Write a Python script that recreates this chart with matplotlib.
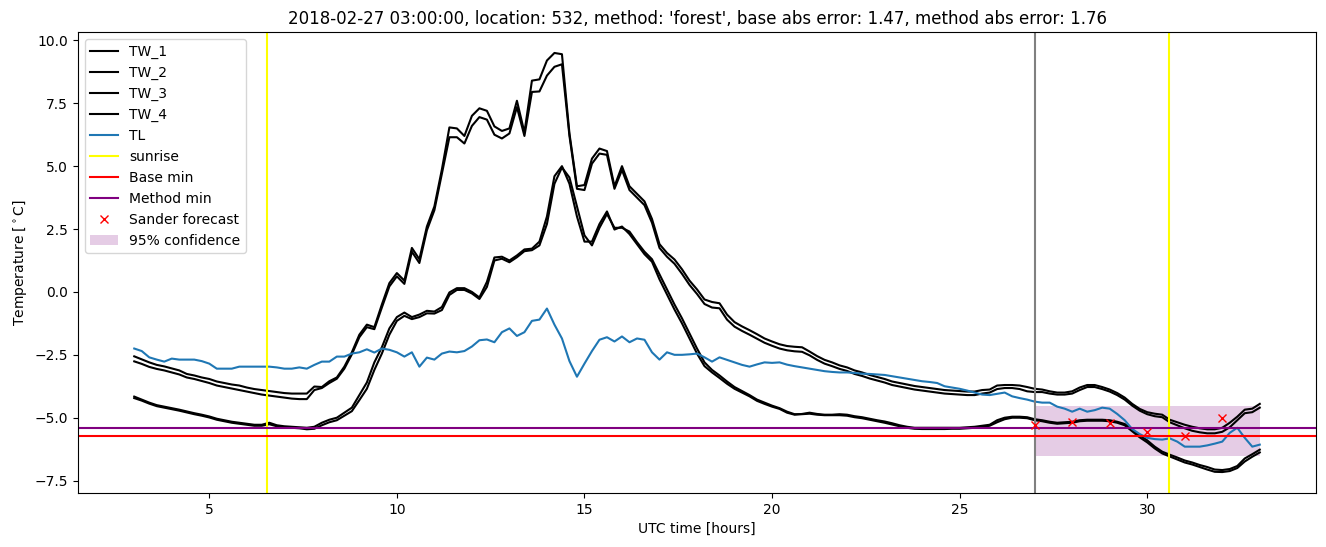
import numpy as np
import matplotlib
matplotlib.use("Agg")
import matplotlib.pyplot as plt

# water temperature sensors, 0.2 h steps from 03:00 to 33:00
tw_1 = [-2.56, -2.68, -2.80, -2.90, -2.96,
        -3.04, -3.12, -3.26, -3.32, -3.40,
        -3.46, -3.56, -3.62, -3.68, -3.72,
        -3.80, -3.86, -3.90, -3.94, -3.98,
        -4.02, -4.04, -4.04, -4.04, -3.76,
        -3.78, -3.55, -3.40, -2.97, -2.40,
        -1.70, -1.30, -1.40, -0.50, 0.35,
        0.75, 0.45, 1.75, 1.30, 2.60,
        3.40, 4.87, 6.54, 6.50, 6.20,
        7.00, 7.30, 7.20, 6.58, 6.40,
        6.50, 7.60, 6.34, 8.40, 8.45,
        9.20, 9.50, 9.45, 6.30, 4.20,
        4.25, 5.30, 5.70, 5.60, 4.20,
        5.00, 4.20, 3.90, 3.60, 2.90,
        1.90, 1.55, 1.29, 0.90, 0.45,
        0.10, -0.30, -0.40, -0.45, -0.90,
        -1.20, -1.37, -1.52, -1.68, -1.85,
        -1.97, -2.08, -2.15, -2.18, -2.20,
        -2.37, -2.55, -2.70, -2.80, -2.92,
        -3.00, -3.12, -3.20, -3.30, -3.38,
        -3.46, -3.56, -3.62, -3.68, -3.74,
        -3.78, -3.82, -3.86, -3.90, -3.92,
        -3.94, -3.96, -3.96, -3.90, -3.88,
        -3.72, -3.70, -3.70, -3.72, -3.78,
        -3.85, -3.88, -3.95, -4.00, -4.00,
        -3.95, -3.80, -3.70, -3.70, -3.78,
        -3.88, -4.02, -4.20, -4.45, -4.65,
        -4.78, -4.84, -4.88, -5.08, -5.18,
        -5.28, -5.36, -5.42, -5.46, -5.46,
        -5.40, -5.20, -4.96, -4.68, -4.64,
        -4.45]

tw_2 = [-2.76, -2.86, -2.98, -3.06, -3.12,
        -3.20, -3.28, -3.40, -3.46, -3.54,
        -3.62, -3.72, -3.78, -3.84, -3.90,
        -3.96, -4.02, -4.08, -4.12, -4.16,
        -4.20, -4.24, -4.26, -4.26, -3.90,
        -3.82, -3.62, -3.45, -3.05, -2.48,
        -1.80, -1.40, -1.48, -0.62, 0.22,
        0.62, 0.32, 1.60, 1.15, 2.45,
        3.25, 4.70, 6.15, 6.15, 5.90,
        6.60, 6.95, 6.85, 6.25, 6.10,
        6.30, 7.35, 6.20, 7.95, 7.97,
        8.60, 8.95, 9.05, 6.20, 4.10,
        4.05, 5.10, 5.50, 5.45, 4.10,
        4.85, 4.05, 3.75, 3.45, 2.75,
        1.75, 1.40, 1.12, 0.72, 0.28,
        -0.08, -0.48, -0.62, -0.65, -1.10,
        -1.38, -1.55, -1.70, -1.86, -2.02,
        -2.14, -2.25, -2.32, -2.36, -2.38,
        -2.52, -2.70, -2.85, -2.95, -3.06,
        -3.14, -3.26, -3.34, -3.44, -3.52,
        -3.60, -3.70, -3.76, -3.82, -3.88,
        -3.92, -3.96, -4.00, -4.04, -4.06,
        -4.08, -4.10, -4.10, -4.04, -4.00,
        -3.86, -3.82, -3.82, -3.86, -3.95,
        -3.98, -3.98, -4.04, -4.08, -4.08,
        -4.04, -3.90, -3.78, -3.78, -3.86,
        -3.96, -4.10, -4.28, -4.52, -4.72,
        -4.86, -4.94, -4.98, -5.18, -5.30,
        -5.42, -5.52, -5.58, -5.62, -5.62,
        -5.56, -5.38, -5.10, -4.82, -4.78,
        -4.60]

tw_3 = [-4.16, -4.28, -4.40, -4.50, -4.56,
        -4.62, -4.68, -4.75, -4.82, -4.88,
        -4.95, -5.04, -5.10, -5.16, -5.20,
        -5.24, -5.28, -5.28, -5.20, -5.30,
        -5.34, -5.36, -5.38, -5.40, -5.36,
        -5.20, -5.08, -5.00, -4.80, -4.60,
        -4.10, -3.60, -2.80, -2.20, -1.45,
        -1.00, -0.82, -1.00, -0.90, -0.75,
        -0.78, -0.60, -0.02, 0.15, 0.15,
        0.00, -0.22, 0.40, 1.37, 1.40,
        1.25, 1.45, 1.69, 1.72, 2.00,
        3.00, 4.60, 5.00, 4.30, 3.00,
        2.00, 2.00, 2.70, 3.20, 2.48,
        2.60, 2.30, 1.90, 1.50, 1.20,
        0.50, -0.10, -0.70, -1.25, -1.85,
        -2.45, -2.95, -3.20, -3.42, -3.65,
        -3.85, -4.00, -4.15, -4.33, -4.45,
        -4.56, -4.65, -4.80, -4.88, -4.85,
        -4.80, -4.85, -4.88, -4.88, -4.86,
        -4.88, -4.94, -4.98, -5.04, -5.10,
        -5.15, -5.22, -5.30, -5.36, -5.40,
        -5.40, -5.40, -5.40, -5.40, -5.40,
        -5.40, -5.38, -5.36, -5.32, -5.28,
        -5.10, -5.00, -4.96, -4.96, -4.98,
        -5.06, -5.10, -5.16, -5.20, -5.18,
        -5.16, -5.10, -5.08, -5.08, -5.08,
        -5.10, -5.16, -5.25, -5.48, -5.70,
        -5.90, -6.15, -6.35, -6.47, -6.58,
        -6.70, -6.78, -6.88, -6.96, -7.06,
        -7.08, -7.04, -6.92, -6.62, -6.45,
        -6.27]

tw_4 = [-4.22, -4.32, -4.44, -4.54, -4.60,
        -4.66, -4.72, -4.79, -4.86, -4.92,
        -4.99, -5.08, -5.14, -5.20, -5.24,
        -5.28, -5.32, -5.32, -5.26, -5.34,
        -5.38, -5.40, -5.42, -5.46, -5.44,
        -5.30, -5.18, -5.10, -4.92, -4.74,
        -4.30, -3.85, -3.10, -2.45, -1.70,
        -1.15, -0.95, -1.08, -1.00, -0.85,
        -0.86, -0.72, -0.12, 0.08, 0.08,
        -0.06, -0.28, 0.20, 1.25, 1.32,
        1.18, 1.38, 1.62, 1.66, 1.85,
        2.70, 4.30, 4.95, 4.55, 3.40,
        2.25, 1.85, 2.55, 3.10, 2.55,
        2.55, 2.40, 1.98, 1.60, 1.30,
        0.70, 0.10, -0.50, -1.05, -1.65,
        -2.25, -2.80, -3.10, -3.32, -3.56,
        -3.78, -3.94, -4.10, -4.28, -4.40,
        -4.52, -4.62, -4.76, -4.86, -4.86,
        -4.84, -4.88, -4.90, -4.90, -4.90,
        -4.92, -4.98, -5.02, -5.08, -5.14,
        -5.20, -5.27, -5.34, -5.40, -5.44,
        -5.45, -5.45, -5.45, -5.45, -5.44,
        -5.44, -5.42, -5.40, -5.36, -5.32,
        -5.18, -5.06, -5.00, -5.00, -5.02,
        -5.10, -5.14, -5.20, -5.24, -5.22,
        -5.20, -5.14, -5.12, -5.12, -5.12,
        -5.14, -5.20, -5.30, -5.54, -5.78,
        -5.98, -6.22, -6.42, -6.54, -6.66,
        -6.78, -6.86, -6.96, -7.06, -7.15,
        -7.16, -7.12, -7.00, -6.74, -6.55,
        -6.38]

tl = [-2.25, -2.35, -2.60, -2.69, -2.77,
      -2.65, -2.69, -2.69, -2.69, -2.75,
      -2.85, -3.05, -3.05, -3.05, -2.97,
      -2.97, -2.97, -2.97, -2.97, -3.00,
      -3.05, -3.05, -3.00, -3.05, -2.90,
      -2.77, -2.77, -2.57, -2.57, -2.45,
      -2.40, -2.28, -2.41, -2.25, -2.30,
      -2.40, -2.57, -2.40, -2.97, -2.61,
      -2.69, -2.45, -2.37, -2.40, -2.35,
      -2.17, -1.92, -1.89, -2.00, -1.60,
      -1.45, -1.75, -1.60, -1.15, -1.10,
      -0.66, -1.30, -1.85, -2.75, -3.37,
      -2.85, -2.35, -1.90, -1.80, -1.97,
      -1.77, -2.00, -1.85, -1.90, -2.40,
      -2.69, -2.40, -2.50, -2.50, -2.48,
      -2.45, -2.60, -2.77, -2.60, -2.70,
      -2.80, -2.90, -2.97, -2.88, -2.80,
      -2.82, -2.80, -2.89, -2.95, -3.00,
      -3.05, -3.10, -3.15, -3.18, -3.20,
      -3.20, -3.22, -3.25, -3.26, -3.28,
      -3.30, -3.35, -3.40, -3.45, -3.50,
      -3.55, -3.58, -3.62, -3.75, -3.80,
      -3.85, -3.92, -4.00, -4.08, -4.10,
      -4.05, -4.00, -4.15, -4.22, -4.28,
      -4.36, -4.40, -4.40, -4.56, -4.64,
      -4.76, -4.64, -4.76, -4.70, -4.60,
      -4.64, -4.85, -5.10, -5.45, -5.65,
      -5.80, -5.85, -5.87, -5.82, -5.95,
      -6.15, -6.15, -6.15, -6.10, -6.03,
      -5.95, -5.60, -5.40, -5.80, -6.15,
      -6.07]

hours = np.round(3.0 + 0.2 * np.arange(len(tl)), 1)

sunrise_hours = [6.55, 30.58]
forecast_start = 27
base_min = -5.71
method_min = -5.39
sander_hours = [27, 28, 29, 30, 31, 32]
sander_values = [-5.27, -5.17, -5.20, -5.57, -5.72, -5.00]
conf_hours = [27, 33]
conf_low = -6.52
conf_high = -4.52

fig, ax = plt.subplots(figsize=(13.26, 5.47), dpi=100)
fig.subplots_adjust(left=0.0588, right=0.9925, top=0.9415, bottom=0.0987)

for name, series in zip(["TW_1", "TW_2", "TW_3", "TW_4"], [tw_1, tw_2, tw_3, tw_4]):
    ax.plot(hours, series, color="black", label=name)
ax.plot(hours, tl, color="tab:blue", label="TL")

ax.axvline(sunrise_hours[0], color="yellow", label="sunrise")
ax.axvline(sunrise_hours[1], color="yellow")
ax.axvline(forecast_start, color="gray")
ax.axhline(base_min, color="red", label="Base min")
ax.axhline(method_min, color="purple", label="Method min")
ax.plot(sander_hours, sander_values, "rx", label="Sander forecast")
ax.fill_between(conf_hours, conf_low, conf_high, color="purple", alpha=0.2,
                linewidth=0, label="95% confidence")

ax.set_title("2018-02-27 03:00:00, location: 532, method: 'forest', "
             "base abs error: 1.47, method abs error: 1.76")
ax.set_xlabel("UTC time [hours]")
ax.set_ylabel(r"Temperature [$^\circ$C]")
ax.legend(loc="upper left")

fig.savefig("out.png", dpi=100)
